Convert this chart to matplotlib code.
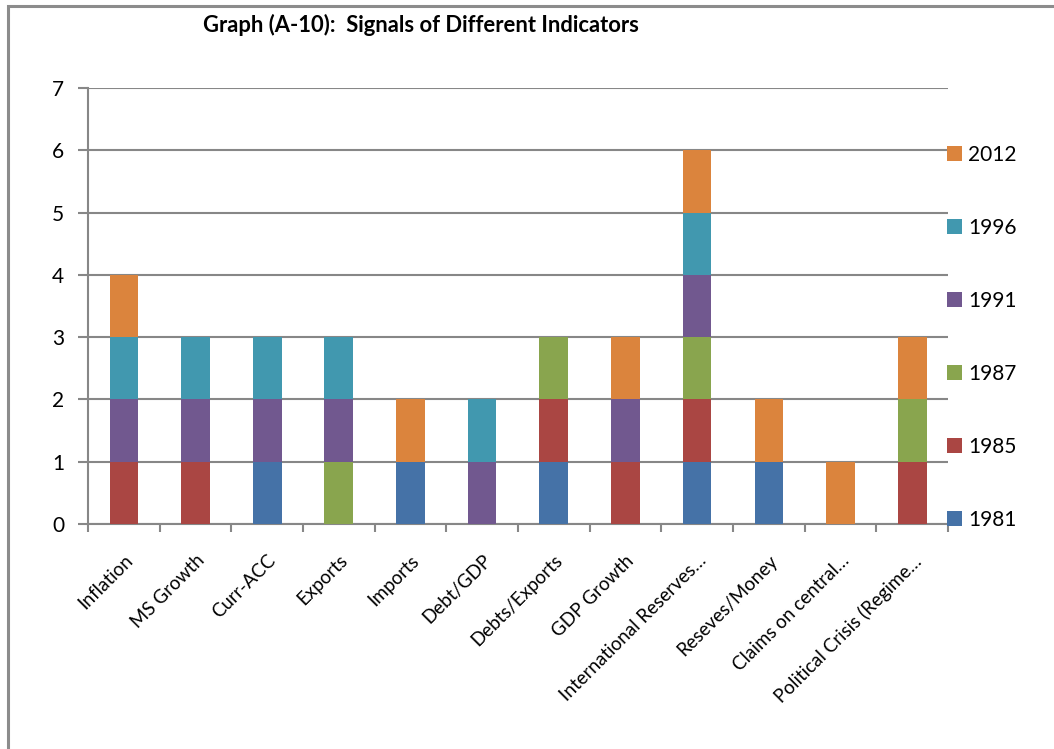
import matplotlib
matplotlib.use("Agg")
import matplotlib.pyplot as plt
from matplotlib.patches import Rectangle
import numpy as np

plt.rcParams['font.family'] = ['Lato', 'DejaVu Sans']

categories = ["Inflation", "MS Growth", "Curr-ACC", "Exports", "Imports", "Debt/GDP",
              "Debts/Exports", "GDP Growth", "International Reserves…", "Reseves/Money",
              "Claims on central…", "Political Crisis (Regime…"]

years = ["1981", "1985", "1987", "1991", "1996", "2012"]

s1981 = [0, 0, 1, 0, 1, 0, 1, 0, 1, 1, 0, 0]
s1985 = [1, 1, 0, 0, 0, 0, 1, 1, 1, 0, 0, 1]
s1987 = [0, 0, 0, 1, 0, 0, 1, 0, 1, 0, 0, 1]
s1991 = [1, 1, 1, 1, 0, 1, 0, 1, 1, 0, 0, 0]
s1996 = [1, 1, 1, 1, 0, 1, 0, 0, 1, 0, 0, 0]
s2012 = [1, 0, 0, 0, 1, 0, 0, 1, 1, 1, 1, 1]

series = [s1981, s1985, s1987, s1991, s1996, s2012]
colors = ["#4572A7", "#AA4643", "#89A54E", "#71588F", "#4198AF", "#DB843D"]

W, H = 1054, 749
fig = plt.figure(figsize=(W / 100, H / 100), dpi=100)
ax = fig.add_axes([88 / W, 1 - 524 / H, 860 / W, 436 / H])

x = np.arange(len(categories))
bottom = np.zeros(len(categories))
handles = []
for vals, lab, col in zip(series, years, colors):
    b = ax.bar(x, vals, width=0.4, bottom=bottom, color=col, label=lab,
               edgecolor="none", zorder=3)
    handles.append(b)
    bottom += np.array(vals)

grid_col = "#878787"
ax.set_xlim(-0.5, len(categories) - 0.5)
ax.set_ylim(0, 7)
ax.set_yticks(range(0, 8))
ax.yaxis.grid(True, color=grid_col, linewidth=1.5, zorder=0)
ax.set_axisbelow(True)

# category ticks sit on the boundaries between groups
ax.set_xticks(np.arange(-0.5, len(categories)), minor=False)
ax.set_xticklabels([])
ax.set_xticks(x, minor=True)
ax.set_xticklabels(categories, minor=True, rotation=45, ha="right", va="top",
                   rotation_mode="anchor", fontsize=13.5)
ax.tick_params(axis="x", which="minor", length=0, pad=20)
ax.tick_params(axis="x", which="major", length=6, width=1.5, color=grid_col)
ax.tick_params(axis="y", length=7, width=1.5, color=grid_col, labelsize=15, pad=10)

for side in ["top", "right"]:
    ax.spines[side].set_visible(False)
for side in ["left", "bottom"]:
    ax.spines[side].set_color(grid_col)
    ax.spines[side].set_linewidth(1.5)

leg = ax.legend(handles[::-1], years[::-1], loc="upper left",
                bbox_to_anchor=(947 / W, 1 - 145 / H), bbox_transform=fig.transFigure,
                frameon=False, fontsize=15, handlelength=0.7, handleheight=0.7,
                handletextpad=0.3, labelspacing=2.54, borderaxespad=0, borderpad=0)

fig.text(421 / W, 1 - 25 / H, "Graph (A-10):  Signals of Different Indicators",
         ha="center", va="center", fontsize=15.8, fontweight="bold")

fig.patches.append(Rectangle((7.5 / W, -0.1), 1.2, 1 - 5.5 / H + 0.1,
                             transform=fig.transFigure, fill=False,
                             edgecolor="#8c8c8c", linewidth=2.2))

fig.savefig("out.png", dpi=100)
